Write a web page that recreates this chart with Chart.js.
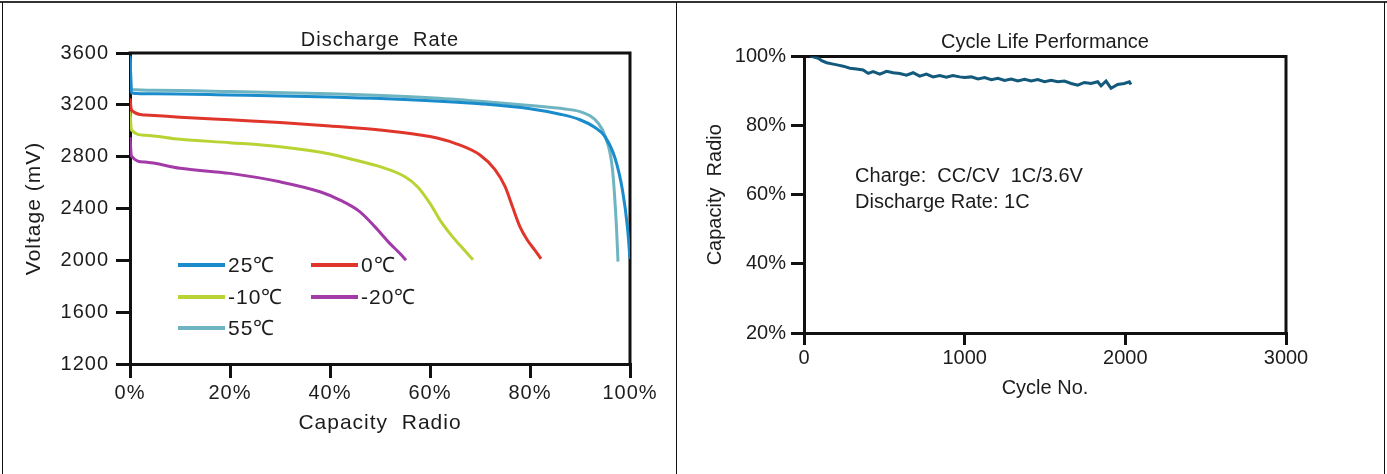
<!DOCTYPE html>
<html><head><meta charset="utf-8">
<script src="https://cdn.jsdelivr.net/npm/chart.js@4.4.1/dist/chart.umd.min.js"></script>
<style>
html,body{margin:0;padding:0;background:#fff;}
#wrap{position:relative;width:1387px;height:474px;overflow:hidden;background:#fff;}
.ln{position:absolute;background:#111;}
canvas{position:absolute;top:0;}
</style></head><body>
<div id="wrap">
<canvas id="c1" width="676" height="474" style="left:0;width:676px;height:474px"></canvas>
<canvas id="c2" width="706" height="474" style="left:678px;width:706px;height:474px"></canvas>
<div class="ln" style="left:0;top:1px;width:1387px;height:2px;background:#333"></div>
<div class="ln" style="left:2px;top:2px;width:1px;height:472px"></div>
<div class="ln" style="left:676px;top:2px;width:1px;height:472px"></div>
<div class="ln" style="left:1384px;top:2px;width:1px;height:472px"></div>
</div>
<script>
// ---------- Discharge Rate data ----------
const seriesLabels = ['25℃', '0℃', '-10℃', '-20℃', '55℃'];
const seriesColors = ['#1a8bcb', '#e0352b', '#b7d434', '#a23aa8', '#6fb5c1'];

const cap25 = [0, 0.3, 5, 20, 40, 60, 70, 80, 86, 90, 93, 95, 97, 98.5, 99.5, 100];
const volt25 = [3580, 3292, 3285, 3276, 3260, 3232, 3208, 3170, 3128, 3085, 3025, 2955, 2790, 2540, 2250, 2010];

const cap0 = [0, 0.3, 3, 10, 20, 30, 40, 50, 60, 65, 70, 73, 75, 76.5, 78, 79.5, 81, 82.2];
const volt0 = [3250, 3160, 3122, 3105, 3084, 3063, 3037, 3006, 2955, 2903, 2813, 2700, 2570, 2413, 2258, 2155, 2077, 2012];

const capM10 = [0, 0.3, 3, 10, 20, 30, 40, 45, 50, 55, 57.5, 60, 62, 64, 66, 68.6];
const voltM10 = [3150, 3005, 2965, 2934, 2908, 2877, 2821, 2774, 2723, 2645, 2568, 2439, 2310, 2206, 2116, 2005];

const capM20 = [0, 0.3, 3, 10, 20, 30, 38, 42, 46, 49, 52, 54, 55.2];
const voltM20 = [2950, 2805, 2758, 2710, 2671, 2606, 2529, 2465, 2374, 2258, 2129, 2052, 2000];

const cap55 = [0, 0.3, 5, 20, 40, 60, 70, 80, 87, 90, 92, 93.5, 95, 96.5, 97.3, 97.6];
const volt55 = [3560, 3318, 3312, 3303, 3285, 3255, 3228, 3195, 3168, 3148, 3115, 3065, 2960, 2700, 2250, 1990];

const capacityTicks = [0, 20, 40, 60, 80, 100];
const voltageTicks = [1200, 1600, 2000, 2400, 2800, 3200, 3600];

// ---------- Cycle Life data ----------
const cycleNo = [40, 89, 110, 141, 182, 213, 244, 286, 327, 368, 400, 430, 472, 514, 555, 596, 638, 679, 720, 762, 803, 845, 886, 927, 969, 1000, 1041, 1083, 1124, 1166, 1207, 1248, 1290, 1331, 1373, 1414, 1455, 1497, 1538, 1580, 1621, 1663, 1704, 1745, 1787, 1828, 1849, 1880, 1911, 1952, 1994, 2025, 2035];
const capacityPct = [100.1, 99.5, 98.8, 98.2, 97.8, 97.5, 97.2, 96.6, 96.4, 96.1, 95.1, 95.6, 94.9, 95.7, 95.3, 95.1, 94.6, 95.3, 94.3, 94.9, 94.1, 94.5, 94.0, 94.5, 94.1, 93.9, 94.1, 93.5, 93.9, 93.3, 93.7, 93.1, 93.5, 92.9, 93.4, 92.9, 93.3, 92.7, 93.1, 92.7, 92.9, 92.2, 91.7, 92.5, 92.2, 92.7, 91.5, 92.9, 90.8, 91.9, 92.2, 92.7, 91.9];
const cycleTicks = [0, 1000, 2000, 3000];
const pctTicks = [20, 40, 60, 80, 100];
const noteLines = ['Charge:  CC/CV  1C/3.6V', 'Discharge Rate: 1C'];

const FONT = "'Liberation Sans', Arial, Helvetica, sans-serif";
const INK = '#1c1c1c';

function zip(xs, ys) { return xs.map((x, i) => ({x: x, y: ys[i]})); }

// ---------- plugins ----------
const spacingPlugin = {
  id: 'spacing',
  beforeUpdate(chart, args, opts) { chart.ctx.letterSpacing = (opts.px || 0) + 'px'; },
  beforeDraw(chart, args, opts) { chart.ctx.letterSpacing = (opts.px || 0) + 'px'; }
};
const boxPlugin = {
  id: 'box',
  beforeDatasetsDraw(chart, args, opts) {
    const {ctx, chartArea: a} = chart;
    ctx.save();
    ctx.strokeStyle = opts.color || '#111';
    ctx.lineWidth = opts.width || 3;
    ctx.lineCap = 'square';
    ctx.beginPath();
    ctx.moveTo(a.left, a.top);
    ctx.lineTo(a.right, a.top);
    ctx.lineTo(a.right, a.bottom);
    ctx.stroke();
    ctx.restore();
  }
};
const insideLegendPlugin = {
  id: 'insideLegend',
  afterDatasetsDraw(chart, args, opts) {
    if (!opts.items) return;
    const {ctx, chartArea: a} = chart;
    ctx.save();
    ctx.font = opts.font;
    ctx.textBaseline = 'middle';
    ctx.textAlign = 'left';
    opts.items.forEach(it => {
      const ds = chart.data.datasets[it.index];
      const y = a.top + it.dy;
      const x = a.left + it.dx;
      ctx.strokeStyle = ds.borderColor;
      ctx.lineWidth = opts.lineWidth;
      ctx.beginPath();
      ctx.moveTo(x, y);
      ctx.lineTo(x + opts.lineLen, y);
      ctx.stroke();
      ctx.fillStyle = opts.color;
      ctx.fillText(ds.label, x + opts.lineLen + opts.gap, y + 1);
    });
    ctx.restore();
  }
};
const notePlugin = {
  id: 'note',
  afterDatasetsDraw(chart, args, opts) {
    if (!opts.lines) return;
    const {ctx, scales} = chart;
    ctx.save();
    ctx.font = opts.font;
    ctx.fillStyle = opts.color;
    ctx.textBaseline = 'middle';
    ctx.textAlign = 'left';
    const x = scales.x.getPixelForValue(opts.atX);
    opts.lines.forEach((t, i) => ctx.fillText(t, x, scales.y.getPixelForValue(opts.atY[i])));
    ctx.restore();
  }
};
Chart.register(spacingPlugin, boxPlugin, insideLegendPlugin, notePlugin);

function axisGrid(len) {
  return { display: true, drawOnChartArea: false, drawTicks: true, tickLength: len, color: '#111', lineWidth: 3 };
}

// ---------- Chart 1 ----------
const capSets = [cap25, cap0, capM10, capM20, cap55];
const voltSets = [volt25, volt0, voltM10, voltM20, volt55];
new Chart(document.getElementById('c1'), {
  type: 'line',
  data: {
    datasets: seriesLabels.map((lab, i) => ({
      label: lab,
      data: zip(capSets[i], voltSets[i]),
      borderColor: seriesColors[i],
      backgroundColor: seriesColors[i],
      borderWidth: 3,
      pointRadius: 0,
      cubicInterpolationMode: 'monotone',
      fill: false
    }))
  },
  options: {
    responsive: false,
    animation: false,
    devicePixelRatio: 1,
    layout: { padding: { left: 0, right: 46, top: 0, bottom: 0 } },
    plugins: {
      legend: { display: false },
      tooltip: { enabled: false },
      spacing: { px: 1 },
      box: { color: '#111', width: 3 },
      insideLegend: {
        font: '21px ' + FONT, color: INK, lineWidth: 4, lineLen: 47, gap: 3,
        items: [
          {index: 0, dx: 48, dy: 212},
          {index: 1, dx: 181, dy: 212},
          {index: 2, dx: 48, dy: 244},
          {index: 3, dx: 181, dy: 244},
          {index: 4, dx: 48, dy: 275}
        ]
      },
      title: {
        display: true, fullSize: false, text: 'Discharge  Rate', color: INK,
        font: { family: FONT, size: 20, weight: 'normal' },
        padding: { top: 28, bottom: 1 }
      }
    },
    scales: {
      x: {
        type: 'linear', min: 0, max: 100,
        afterBuildTicks: s => { s.ticks = capacityTicks.map(v => ({value: v})); },
        afterFit: s => { s.height = 110; },
        grid: axisGrid(14),
        border: { display: true, color: '#111', width: 3 },
        ticks: { color: INK, font: { family: FONT, size: 20 }, padding: 3, callback: v => String(v) + '%', maxRotation: 0 },
        title: { display: true, text: 'Capacity  Radio', color: INK, font: { family: FONT, size: 21 }, padding: { top: 0, bottom: 38 } }
      },
      y: {
        type: 'linear', min: 1200, max: 3600,
        afterBuildTicks: s => { s.ticks = voltageTicks.map(v => ({value: v})); },
        afterFit: s => { s.width = 130; },
        grid: axisGrid(14),
        border: { display: true, color: '#111', width: 3 },
        ticks: { color: INK, font: { family: FONT, size: 20 }, padding: 7, callback: v => String(v) },
        title: { display: true, text: 'Voltage (mV)', color: INK, font: { family: FONT, size: 21 }, padding: { top: 22, bottom: 0 } }
      }
    }
  }
});

// ---------- Chart 2 ----------
new Chart(document.getElementById('c2'), {
  type: 'line',
  data: {
    datasets: [{
      label: 'Capacity',
      data: zip(cycleNo, capacityPct),
      borderColor: '#13597c',
      borderWidth: 3,
      pointRadius: 0,
      tension: 0,
      fill: false
    }]
  },
  options: {
    responsive: false,
    animation: false,
    devicePixelRatio: 1,
    layout: { padding: { left: 0, right: 98, top: 0, bottom: 0 } },
    plugins: {
      legend: { display: false },
      tooltip: { enabled: false },
      spacing: { px: 0 },
      box: { color: '#111', width: 3 },
      note: { lines: noteLines, atX: 318, atY: [65.4, 57.8], font: '20px ' + FONT, color: INK },
      title: {
        display: true, fullSize: false, text: 'Cycle Life Performance', color: INK,
        font: { family: FONT, size: 20, weight: 'normal' },
        padding: { top: 30, bottom: 2.5 }
      }
    },
    scales: {
      x: {
        type: 'linear', min: 0, max: 3000,
        afterBuildTicks: s => { s.ticks = cycleTicks.map(v => ({value: v})); },
        afterFit: s => { s.height = 141; },
        grid: axisGrid(12),
        border: { display: true, color: '#111', width: 3 },
        ticks: { color: INK, font: { family: FONT, size: 20 }, padding: 1, maxRotation: 0, callback: v => String(v) },
        title: { display: true, text: 'Cycle No.', color: INK, font: { family: FONT, size: 20 }, padding: { top: 0, bottom: 74 } }
      },
      y: {
        type: 'linear', min: 20, max: 100,
        afterBuildTicks: s => { s.ticks = pctTicks.map(v => ({value: v})); },
        afterFit: s => { s.width = 126; },
        grid: axisGrid(13),
        border: { display: true, color: '#111', width: 3 },
        ticks: { color: INK, font: { family: FONT, size: 20 }, padding: 5, callback: v => String(v) + '%' },
        title: { display: true, text: 'Capacity  Radio', color: INK, font: { family: FONT, size: 20 }, padding: { top: 25, bottom: 0 } }
      }
    }
  }
});
</script>
</body></html>
